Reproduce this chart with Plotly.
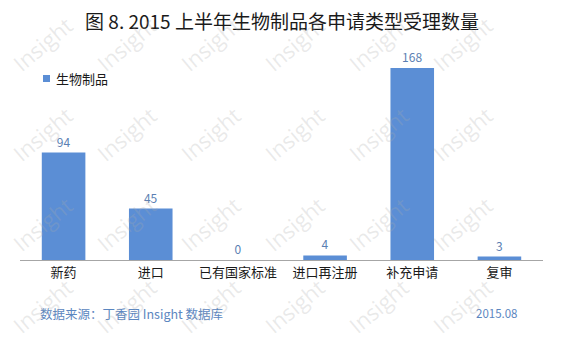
import plotly.graph_objects as go

categories = ["新药", "进口", "已有国家标准", "进口再注册", "补充申请", "复审"]
values = [94, 45, 0, 4, 168, 3]
series_name = "生物制品"
title_text = "图 8. 2015 上半年生物制品各申请类型受理数量"
source_text = "数据来源：丁香园 Insight 数据库"
date_text = "2015.08"

FONT = "Noto Sans CJK SC, Microsoft YaHei, sans-serif"
BAR = "#5B8ED5"

W, H = 564, 347
L, R, T, B = 20, 21, 40, 87
PW, PH = W - L - R, H - T - B


def px(x):
    return (x - L) / PW


def py(y):
    return (H - B - y) / PH


fig = go.Figure()
fig.add_trace(go.Bar(
    x=categories, y=values, name=series_name,
    marker=dict(color=BAR, line=dict(width=0)),
    text=[str(v) for v in values], textposition="outside",
    textfont=dict(family=FONT, size=12, color="#5B7FB3"),
    cliponaxis=False, showlegend=False,
))

annotations = [
    dict(text=source_text, xref="paper", yref="paper", x=px(38), y=py(313),
         xanchor="left", yanchor="middle", showarrow=False,
         font=dict(family=FONT, size=12.5, color="#5B86C0")),
    dict(text=date_text, xref="paper", yref="paper", x=px(520), y=py(313),
         xanchor="right", yanchor="middle", showarrow=False,
         font=dict(family=FONT, size=11.5, color="#5B86C0")),
    dict(text=series_name, xref="paper", yref="paper", x=px(54), y=py(78),
         xanchor="left", yanchor="middle", showarrow=False,
         font=dict(family=FONT, size=13, color="#1a1a1a")),
]

shapes = [dict(type="rect", xref="paper", yref="paper",
               x0=px(43), x1=px(50), y0=py(82), y1=py(75),
               fillcolor=BAR, line=dict(width=0))]

# watermark grid
wm_x = [42, 126, 210, 294, 378, 462]
wm_y = [44, 134, 224, 306]
for yy in wm_y:
    for xx in wm_x:
        annotations.append(dict(
            text="Insight", xref="paper", yref="paper",
            x=px(xx), y=py(yy),
            xanchor="center", yanchor="middle", showarrow=False, textangle=-40,
            font=dict(family="Open Sans, sans-serif", size=22, color="rgba(170,170,170,0.25)"),
        ))

fig.update_layout(
    width=W, height=H,
    margin=dict(l=L, r=R, t=T, b=B),
    paper_bgcolor="white", plot_bgcolor="white",
    title=dict(text=title_text, x=0.5, xanchor="center", y=1 - 22 / H, yanchor="middle",
               font=dict(family=FONT, size=19, color="#1a1a1a")),
    bargap=0.5,
    showlegend=False,
    xaxis=dict(showline=True, linecolor="#A6A6A6", linewidth=1, ticks="",
               tickfont=dict(family=FONT, size=13, color="#1a1a1a"), showgrid=False),
    yaxis=dict(range=[0, 192.5], visible=False, showgrid=False, zeroline=False),
    annotations=annotations,
    shapes=shapes,
)

fig.write_html("out.html")
